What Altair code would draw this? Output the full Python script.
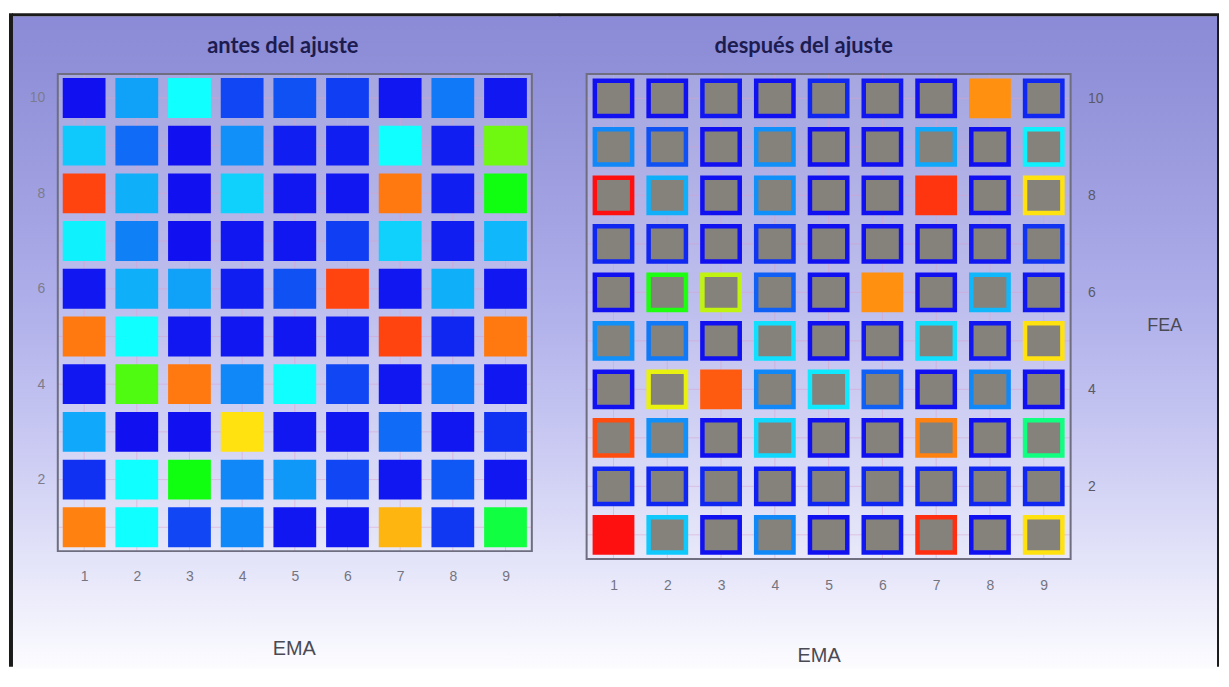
import altair as alt
import pandas as pd

# ---------------- data ----------------
ema_values = [1, 2, 3, 4, 5, 6, 7, 8, 9]
fea_values = [10, 9, 8, 7, 6, 5, 4, 3, 2, 1]
x_tick_values = [1, 2, 3, 4, 5, 6, 7, 8, 9]
y_tick_values = [2, 4, 6, 8, 10]

# "antes del ajuste": one list per FEA row (EMA 1..9), value on a 0..1 jet scale
antes_fea10 = [0.00, 0.20, 0.33, 0.075, 0.09, 0.065, 0.01, 0.145, 0.01]
antes_fea9 = [0.255, 0.125, 0.00, 0.177, 0.02, 0.02, 0.33, 0.02, 0.568]
antes_fea8 = [0.923, 0.22, 0.00, 0.265, 0.01, 0.01, 0.845, 0.02, 0.50]
antes_fea7 = [0.31, 0.155, 0.00, 0.01, 0.01, 0.065, 0.265, 0.02, 0.232]
antes_fea6 = [0.01, 0.22, 0.20, 0.02, 0.09, 0.923, 0.01, 0.22, 0.01]
antes_fea5 = [0.845, 0.33, 0.01, 0.01, 0.01, 0.02, 0.923, 0.03, 0.845]
antes_fea4 = [0.01, 0.545, 0.845, 0.166, 0.33, 0.075, 0.01, 0.145, 0.01]
antes_fea3 = [0.21, 0.00, 0.00, 0.69, 0.01, 0.01, 0.125, 0.01, 0.045]
antes_fea2 = [0.045, 0.33, 0.50, 0.166, 0.188, 0.075, 0.01, 0.10, 0.01]
antes_fea1 = [0.834, 0.33, 0.075, 0.166, 0.01, 0.01, 0.757, 0.055, 0.466]

# "después del ajuste"
despues_fea10 = [0.00, 0.00, 0.01, 0.00, 0.03, 0.01, 0.00, 0.812, 0.03]
despues_fea9 = [0.166, 0.09, 0.00, 0.177, 0.00, 0.00, 0.21, 0.00, 0.31]
despues_fea8 = [1.00, 0.22, 0.00, 0.177, 0.00, 0.00, 0.945, 0.00, 0.69]
despues_fea7 = [0.03, 0.03, 0.00, 0.05, 0.00, 0.00, 0.00, 0.01, 0.05]
despues_fea6 = [0.00, 0.51, 0.625, 0.11, 0.00, 0.812, 0.00, 0.232, 0.01]
despues_fea5 = [0.177, 0.145, 0.00, 0.287, 0.00, 0.01, 0.287, 0.01, 0.69]
despues_fea4 = [0.00, 0.654, 0.89, 0.166, 0.298, 0.11, 0.00, 0.166, 0.00]
despues_fea3 = [0.91, 0.177, 0.00, 0.276, 0.00, 0.00, 0.834, 0.00, 0.42]
despues_fea2 = [0.03, 0.03, 0.03, 0.02, 0.03, 0.03, 0.03, 0.03, 0.03]
despues_fea1 = [1.00, 0.255, 0.00, 0.166, 0.00, 0.01, 0.956, 0.00, 0.69]

# cells of the right panel that are completely filled with their colour
filled_ema = [8, 7, 6, 3, 1]
filled_fea = [10, 8, 6, 4, 1]

# ---------------- tables ----------------
antes_rows = [antes_fea10, antes_fea9, antes_fea8, antes_fea7, antes_fea6,
              antes_fea5, antes_fea4, antes_fea3, antes_fea2, antes_fea1]
despues_rows = [despues_fea10, despues_fea9, despues_fea8, despues_fea7, despues_fea6,
                despues_fea5, despues_fea4, despues_fea3, despues_fea2, despues_fea1]
filled_set = set(zip(filled_ema, filled_fea))


def build(rows):
    recs = []
    for f, row in zip(fea_values, rows):
        for e, v in zip(ema_values, row):
            recs.append({"EMA": e, "FEA": f, "valor": v,
                         "relleno": 1 if (e, f) in filled_set else 0})
    return pd.DataFrame(recs)


df_antes = build(antes_rows)
df_despues = build(despues_rows)
df_x = pd.DataFrame({"EMA": ema_values})
df_y = pd.DataFrame({"FEA": fea_values})
one = pd.DataFrame({"k": [0]})

# ---------------- styling ----------------
LW, LH = 476, 479
RW, RH = 486, 487

xs = alt.Scale(domain=[0.5, 9.5], nice=False, zero=False)
ys = alt.Scale(domain=[0.5, 10.5], nice=False, zero=False)
jet_domain = [0, 0.33, 0.5, 0.67, 1]
jet_range = ["#1010f0", "#10ffff", "#10ff10", "#fff010", "#ff1010"]


def jet():
    return alt.Scale(domain=jet_domain, range=jet_range, interpolate="rgb")


grad = {"gradient": "linear", "x1": 0, "y1": 0, "x2": 0, "y2": 1,
        "stops": [{"offset": 0, "color": "#8a8ad6"},
                  {"offset": 0.21, "color": "#9a9ade"},
                  {"offset": 0.435, "color": "#aeaeea"},
                  {"offset": 0.66, "color": "#cacaf3"},
                  {"offset": 0.83, "color": "#e3e3f9"},
                  {"offset": 1, "color": "#fcfcff"}]}

LABEL_FONT = "Liberation Sans"


def x_axis(pad, tx, ty):
    return alt.Axis(values=x_tick_values, title="EMA", grid=False, ticks=False, domain=False,
                    labelPadding=pad, labelBaseline="middle", labelAngle=0, labelFlush=False,
                    labelFont=LABEL_FONT, labelFontSize=14, labelColor="#74747f",
                    titleFont=LABEL_FONT, titleFontSize=20, titleFontWeight="normal",
                    titleColor="#4a4a55", titleX=tx, titleY=ty, titleAlign="center",
                    titleBaseline="middle", zindex=1)


def y_axis_left():
    return alt.Axis(values=y_tick_values, title=None, grid=False, ticks=False, domain=False,
                    orient="left", labelPadding=13, labelFont=LABEL_FONT, labelFontSize=14,
                    labelColor="#7c7c8c", zindex=1)


def y_axis_right():
    return alt.Axis(values=y_tick_values, title="FEA", grid=False, ticks=False, domain=False,
                    orient="right", labelPadding=17, labelFont=LABEL_FONT, labelFontSize=14,
                    labelColor="#5a5a66", titleFont=LABEL_FONT, titleFontSize=18,
                    titleFontWeight="normal", titleColor="#4a4a55", titleAngle=0,
                    titleX=94, titleY=252, titleAlign="center", titleBaseline="middle",
                    zindex=1)


def box(x, x2, y, y2, **mk):
    return alt.Chart(one).mark_rect(**mk).encode(
        x=alt.value(x), x2=alt.value(x2), y=alt.value(y), y2=alt.value(y2))


def hline(x, x2, y, **mk):
    return alt.Chart(one).mark_rule(**mk).encode(x=alt.value(x), x2=alt.value(x2), y=alt.value(y))


def vline(x, y, y2, **mk):
    return alt.Chart(one).mark_rule(**mk).encode(x=alt.value(x), y=alt.value(y), y2=alt.value(y2))


def grids(xax, yax):
    gv = alt.Chart(df_x).mark_rule(color="#d8a0c8", strokeWidth=1, opacity=0.5).encode(
        x=alt.X("EMA:Q", scale=xs, axis=xax))
    gh = alt.Chart(df_y).mark_rule(color="#d8a0c8", strokeWidth=1, opacity=0.5).encode(
        y=alt.Y("FEA:Q", scale=ys, axis=yax))
    return gv, gh


def title_text(txt, x, y):
    return alt.Chart(one).mark_text(text=txt, font="Lato", fontWeight="bold", fontSize=22,
                                    color="#1c1c50", align="center", baseline="middle").encode(
        x=alt.value(x), y=alt.value(y))


# ---------------- left panel ----------------
xaxL = x_axis(25, 237, 98)
yaxL = y_axis_left()
gvL, ghL = grids(xaxL, yaxL)
squaresL = alt.Chart(df_antes).transform_calculate(
    x1="datum.EMA - 0.406", x2="datum.EMA + 0.406",
    y1="datum.FEA - 0.418", y2="datum.FEA + 0.418"
).mark_rect().encode(
    x=alt.X("x1:Q", scale=xs, axis=xaxL),
    x2="x2:Q",
    y=alt.Y("y1:Q", scale=ys, axis=yaxL),
    y2="y2:Q",
    fill=alt.Fill("valor:Q", scale=jet(), legend=None),
)

left = alt.layer(
    box(-50, 505, -65, 597, fill="white"),
    box(-46, 505, -58, 597, fill=grad),
    box(0, LW, 0, LH, fill="white", opacity=0.2),
    gvL, ghL,
    squaresL,
    box(0, LW, 0, LH, filled=False, stroke="#6e6e80", strokeWidth=2),
    title_text("antes del ajuste", 226, -28),
    hline(-46, 503.5, -59.5, color="#1a1a1a", strokeWidth=3),
    vline(-47, -61, 595, color="#1a1a1a", strokeWidth=4),
).properties(width=LW, height=LH)

# ---------------- right panel ----------------
xaxR = x_axis(27, 233, 97)
yaxR = y_axis_right()
gvR, ghR = grids(xaxR, yaxR)
squaresR = alt.Chart(df_despues).transform_calculate(
    x1="datum.EMA - 0.347", x2="datum.EMA + 0.347",
    y1="datum.FEA - 0.364", y2="datum.FEA + 0.364"
).mark_rect(strokeWidth=4.5).encode(
    x=alt.X("x1:Q", scale=xs, axis=xaxR),
    x2="x2:Q",
    y=alt.Y("y1:Q", scale=ys, axis=yaxR),
    y2="y2:Q",
    stroke=alt.Stroke("valor:Q", scale=jet(), legend=None),
    fill=alt.condition("datum.relleno == 1",
                       alt.Fill("valor:Q", scale=jet(), legend=None),
                       alt.value("#85827c")),
)

right = alt.layer(
    box(-20, 637, -65, 597, fill="white"),
    box(-30, 633, -58, 597, fill=grad),
    box(0, RW, 0, RH, fill="white", opacity=0.2),
    gvR, ghR,
    squaresR,
    box(0, RW, 0, RH, filled=False, stroke="#6e6e80", strokeWidth=2),
    title_text("después del ajuste", 218, -28),
    hline(-28, 633, -59.5, color="#1a1a1a", strokeWidth=3),
    vline(634, -61, 595, color="#1a1a1a", strokeWidth=2),
).properties(width=RW, height=RH)

chart = alt.hconcat(left, right, spacing=-4).properties(padding=0).configure_view(strokeWidth=0)

chart.save("out.html", embed_options={"renderer": "svg", "actions": False})
